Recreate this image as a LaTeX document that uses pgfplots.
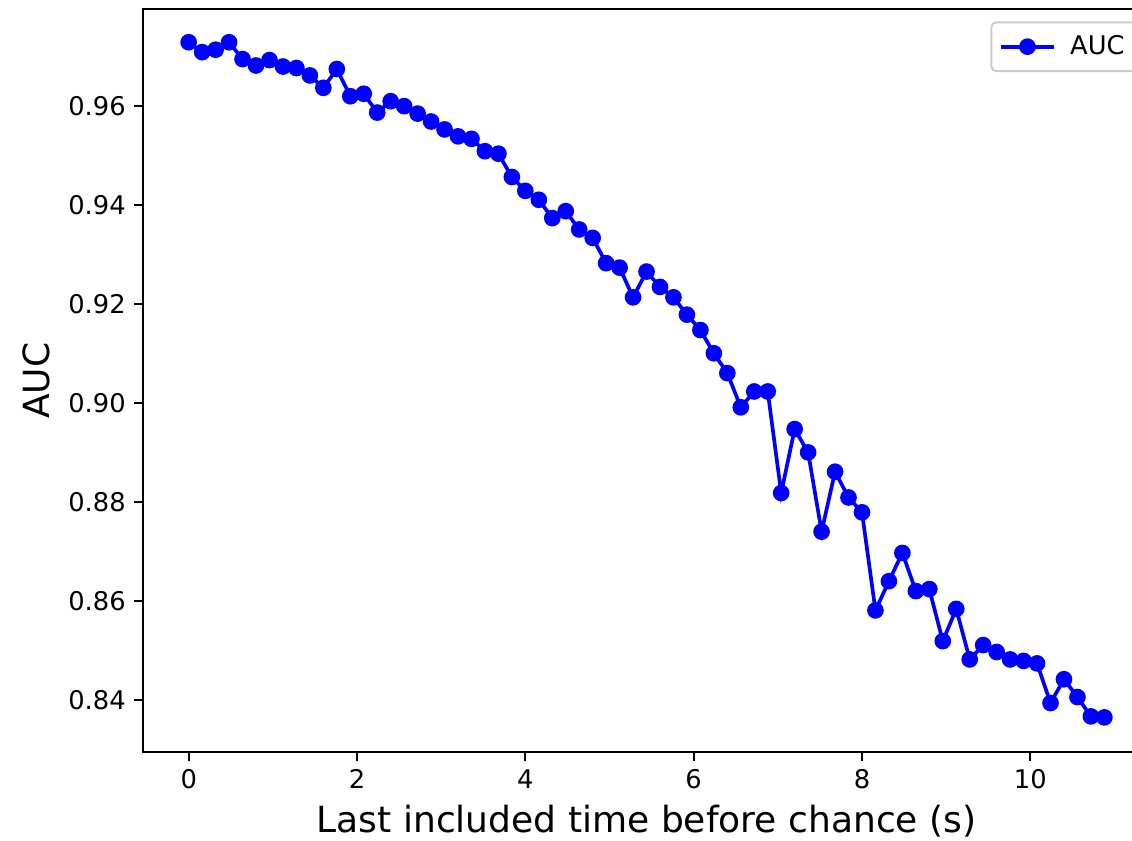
\documentclass[border=0pt]{standalone}
\usepackage{fontspec}
\setmainfont{DejaVu Sans}
\usepackage{pgfplots}
\pgfplotsset{compat=1.18}
\begin{document}
\begin{tikzpicture}
\begin{axis}[
 at={(0pt,0pt)}, anchor=south west,
 scale only axis, width=410.9pt, height=303.1pt,
 xmin=-0.544, xmax=11.424, ymin=0.8295, ymax=0.9795,
 xtick={0,2,4,6,8,10},
 ytick={0.84,0.86,0.88,0.90,0.92,0.94,0.96},
 xtick pos=bottom, ytick pos=left,
 tick align=outside, major tick length=3.5pt,
 every tick/.style={black, line width=0.8pt},
 axis line style={line width=0.8pt},
 /pgf/number format/assume math mode=true,
 ticklabel style={font=\fontsize{10.5}{12.5}\selectfont},
 yticklabel style={/pgf/number format/fixed, /pgf/number format/fixed zerofill, /pgf/number format/precision=2},
 xlabel={Last included time before chance (s)},
 ylabel={AUC},
 label style={font=\fontsize{14.7}{17}\selectfont},
 xlabel style={at={(axis description cs:0.5,-0.1089)}, anchor=base},
 ylabel style={at={(axis description cs:-0.0925,0.5)}, anchor=base},
 legend style={at={(axis description cs:0.98783,0.9835)}, anchor=north east,
   draw=black!20, line width=0.8pt, rounded corners=2pt, fill=white,
   inner xsep=3pt, inner ysep=3.3pt, font=\fontsize{10.5}{12.5}\selectfont,
   cells={anchor=west},
   /tikz/every odd column/.append style={column sep=3.7pt}},
 legend image code/.code={\draw[mark repeat=2, mark phase=2] plot coordinates {(0pt,0pt)(11pt,0pt)(22pt,0pt)};},
]
\addplot[blue, line width=1.5pt, mark=*, mark size=3pt, mark options={solid, fill=blue, draw=blue, line width=0.8pt}] table {
x y
0.00 0.9728
0.16 0.9708
0.32 0.9713
0.48 0.9728
0.64 0.9694
0.80 0.9681
0.96 0.9692
1.12 0.9679
1.28 0.9676
1.44 0.9661
1.60 0.9636
1.76 0.9674
1.92 0.9619
2.08 0.9624
2.24 0.9586
2.40 0.9609
2.56 0.9599
2.72 0.9584
2.88 0.9568
3.04 0.9552
3.20 0.9538
3.36 0.9533
3.52 0.9508
3.68 0.9503
3.84 0.9456
4.00 0.9428
4.16 0.9410
4.32 0.9373
4.48 0.9387
4.64 0.9350
4.80 0.9333
4.96 0.9282
5.12 0.9273
5.28 0.9213
5.44 0.9265
5.60 0.9234
5.76 0.9213
5.92 0.9178
6.08 0.9147
6.24 0.9100
6.40 0.9060
6.56 0.8991
6.72 0.9023
6.88 0.9023
7.04 0.8818
7.20 0.8947
7.36 0.8900
7.52 0.8740
7.68 0.8861
7.84 0.8809
8.00 0.8779
8.16 0.8581
8.32 0.8640
8.48 0.8697
8.64 0.8620
8.80 0.8624
8.96 0.8519
9.12 0.8584
9.28 0.8482
9.44 0.8511
9.60 0.8497
9.76 0.8482
9.92 0.8479
10.08 0.8474
10.24 0.8394
10.40 0.8442
10.56 0.8406
10.72 0.8367
10.88 0.8365
};
\addlegendentry{AUC}
\end{axis}
\pgfresetboundingbox
\path[use as bounding box] (-58.3pt,-35.9pt) rectangle (403.5pt,306.8pt);
\end{tikzpicture}
\end{document}
